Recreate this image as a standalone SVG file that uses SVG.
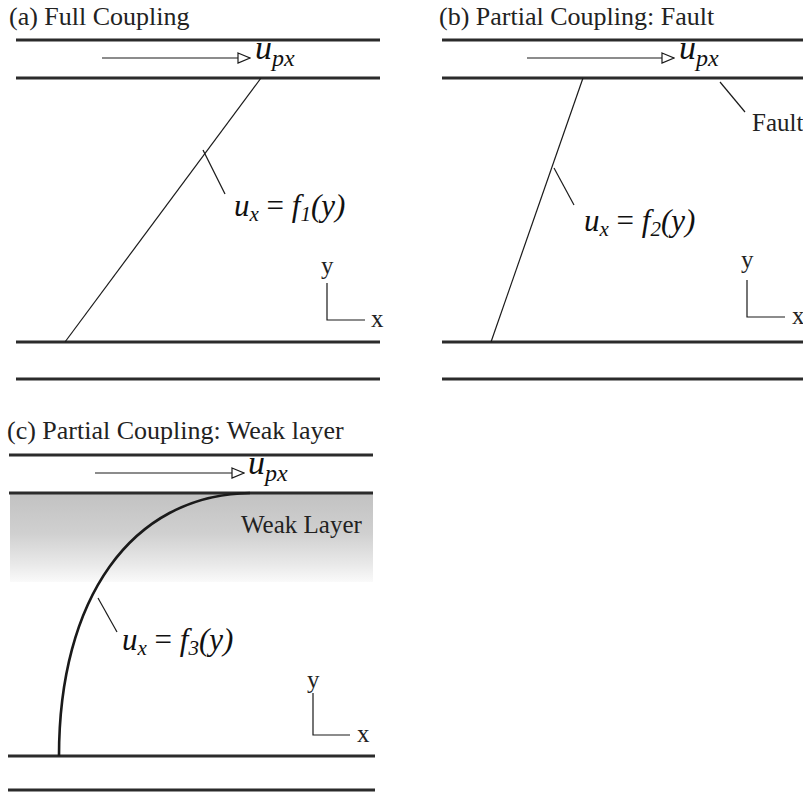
<svg xmlns="http://www.w3.org/2000/svg" width="803" height="793" viewBox="0 0 803 793">
<style>
.plate{stroke:#2b2b2b;stroke-width:3;fill:none}
.thin{stroke:#1a1a1a;stroke-width:1.2;fill:none}
.title{font-family:"Liberation Serif","Times New Roman",serif;font-size:26px;fill:#222}
.lab{font-family:"Liberation Serif","Times New Roman",serif;font-size:25px;fill:#222}
.eq{font-family:"Liberation Serif","Times New Roman",serif;font-style:italic;font-size:31px;fill:#111}
.sub{font-size:21px}
.upx{font-family:"Liberation Serif","Times New Roman",serif;font-style:italic;fill:#111}
</style>
<defs>
<marker id="tri" markerWidth="14" markerHeight="12" refX="13" refY="6" orient="auto" markerUnits="userSpaceOnUse">
<path d="M1,1 L13,6 L1,11 Z" fill="#fff" stroke="#1a1a1a" stroke-width="1.2"/>
</marker>
<linearGradient id="weak" x1="0" y1="0" x2="0" y2="1">
<stop offset="0" stop-color="#c2c2c2"/>
<stop offset="0.45" stop-color="#d0d0d0"/>
<stop offset="0.8" stop-color="#e9e9e9"/>
<stop offset="1" stop-color="#fafafa"/>
</linearGradient>
</defs>

<g id="panel-a">
<text class="title" x="9" y="25">(a) Full Coupling</text>
<line class="plate" x1="16" y1="40" x2="380" y2="40"/>
<line class="plate" x1="16" y1="78" x2="380" y2="78"/>
<line class="plate" x1="16" y1="342" x2="380" y2="342"/>
<line class="plate" x1="16" y1="379" x2="380" y2="379"/>
<line class="thin" x1="102" y1="58" x2="250" y2="58" marker-end="url(#tri)"/>
<text class="upx" x="255" y="59"><tspan font-size="34">u</tspan><tspan font-size="24" dy="7">px</tspan></text>
<line class="thin" x1="261" y1="78" x2="65" y2="342"/>
<text class="eq" x="234" y="216">u<tspan class="sub" dy="5">x</tspan><tspan dy="-5" font-style="normal"> = </tspan>f<tspan class="sub" dy="5">1</tspan><tspan dy="-5">(y)</tspan></text>
<text class="lab" x="321" y="274">y</text>
<path class="thin" d="M327,283 V320 H365"/>
<text class="lab" x="371" y="327">x</text>
</g>

<g id="panel-b">
<text class="title" x="439" y="25">(b) Partial Coupling: Fault</text>
<line class="plate" x1="442" y1="40" x2="803" y2="40"/>
<line class="plate" x1="442" y1="78" x2="803" y2="78"/>
<line class="plate" x1="442" y1="342" x2="803" y2="342"/>
<line class="plate" x1="442" y1="379" x2="803" y2="379"/>
<line class="thin" x1="527" y1="58" x2="674" y2="58" marker-end="url(#tri)"/>
<text class="upx" x="679" y="59"><tspan font-size="34">u</tspan><tspan font-size="24" dy="7">px</tspan></text>
<line class="thin" x1="583" y1="78" x2="491" y2="342"/>
<text class="lab" x="752" y="131" font-size="24">Fault</text>
<text class="eq" x="584" y="231">u<tspan class="sub" dy="5">x</tspan><tspan dy="-5" font-style="normal"> = </tspan>f<tspan class="sub" dy="5">2</tspan><tspan dy="-5">(y)</tspan></text>
<text class="lab" x="741" y="268">y</text>
<path class="thin" d="M747,280 V317 H785"/>
<text class="lab" x="792" y="324">x</text>
</g>

<g id="panel-c">
<text class="title" x="7" y="439">(c) Partial Coupling: Weak layer</text>
<rect x="10" y="494" width="363" height="88" fill="url(#weak)"/>
<line class="plate" x1="9" y1="455" x2="373" y2="455"/>
<line class="plate" x1="9" y1="493" x2="373" y2="493"/>
<line class="plate" x1="8" y1="756" x2="375" y2="756"/>
<line class="plate" x1="8" y1="790" x2="375" y2="790"/>
<line class="thin" x1="95" y1="473" x2="244" y2="473" marker-end="url(#tri)"/>
<text class="upx" x="248" y="474"><tspan font-size="34">u</tspan><tspan font-size="24" dy="7">px</tspan></text>
<text class="lab" x="241" y="533" fill="#333" font-size="22">Weak Layer</text>
<path d="M59,756 C59,600 130,495 250,493" fill="none" stroke="#1a1a1a" stroke-width="2.6"/>
<text class="eq" x="122" y="650">u<tspan class="sub" dy="5">x</tspan><tspan dy="-5" font-style="normal"> = </tspan>f<tspan class="sub" dy="5">3</tspan><tspan dy="-5">(y)</tspan></text>
<text class="lab" x="307" y="688">y</text>
<path class="thin" d="M313,693 V735 H350"/>
<text class="lab" x="357" y="742">x</text>
</g>

<g id="connectors">
<line class="thin" x1="203" y1="150" x2="225" y2="194"/>
<line class="thin" x1="554" y1="168" x2="574" y2="205"/>
<line class="thin" x1="720" y1="82" x2="745" y2="112"/>
<line class="thin" x1="98" y1="598" x2="117" y2="632"/>
</g>
</svg>
